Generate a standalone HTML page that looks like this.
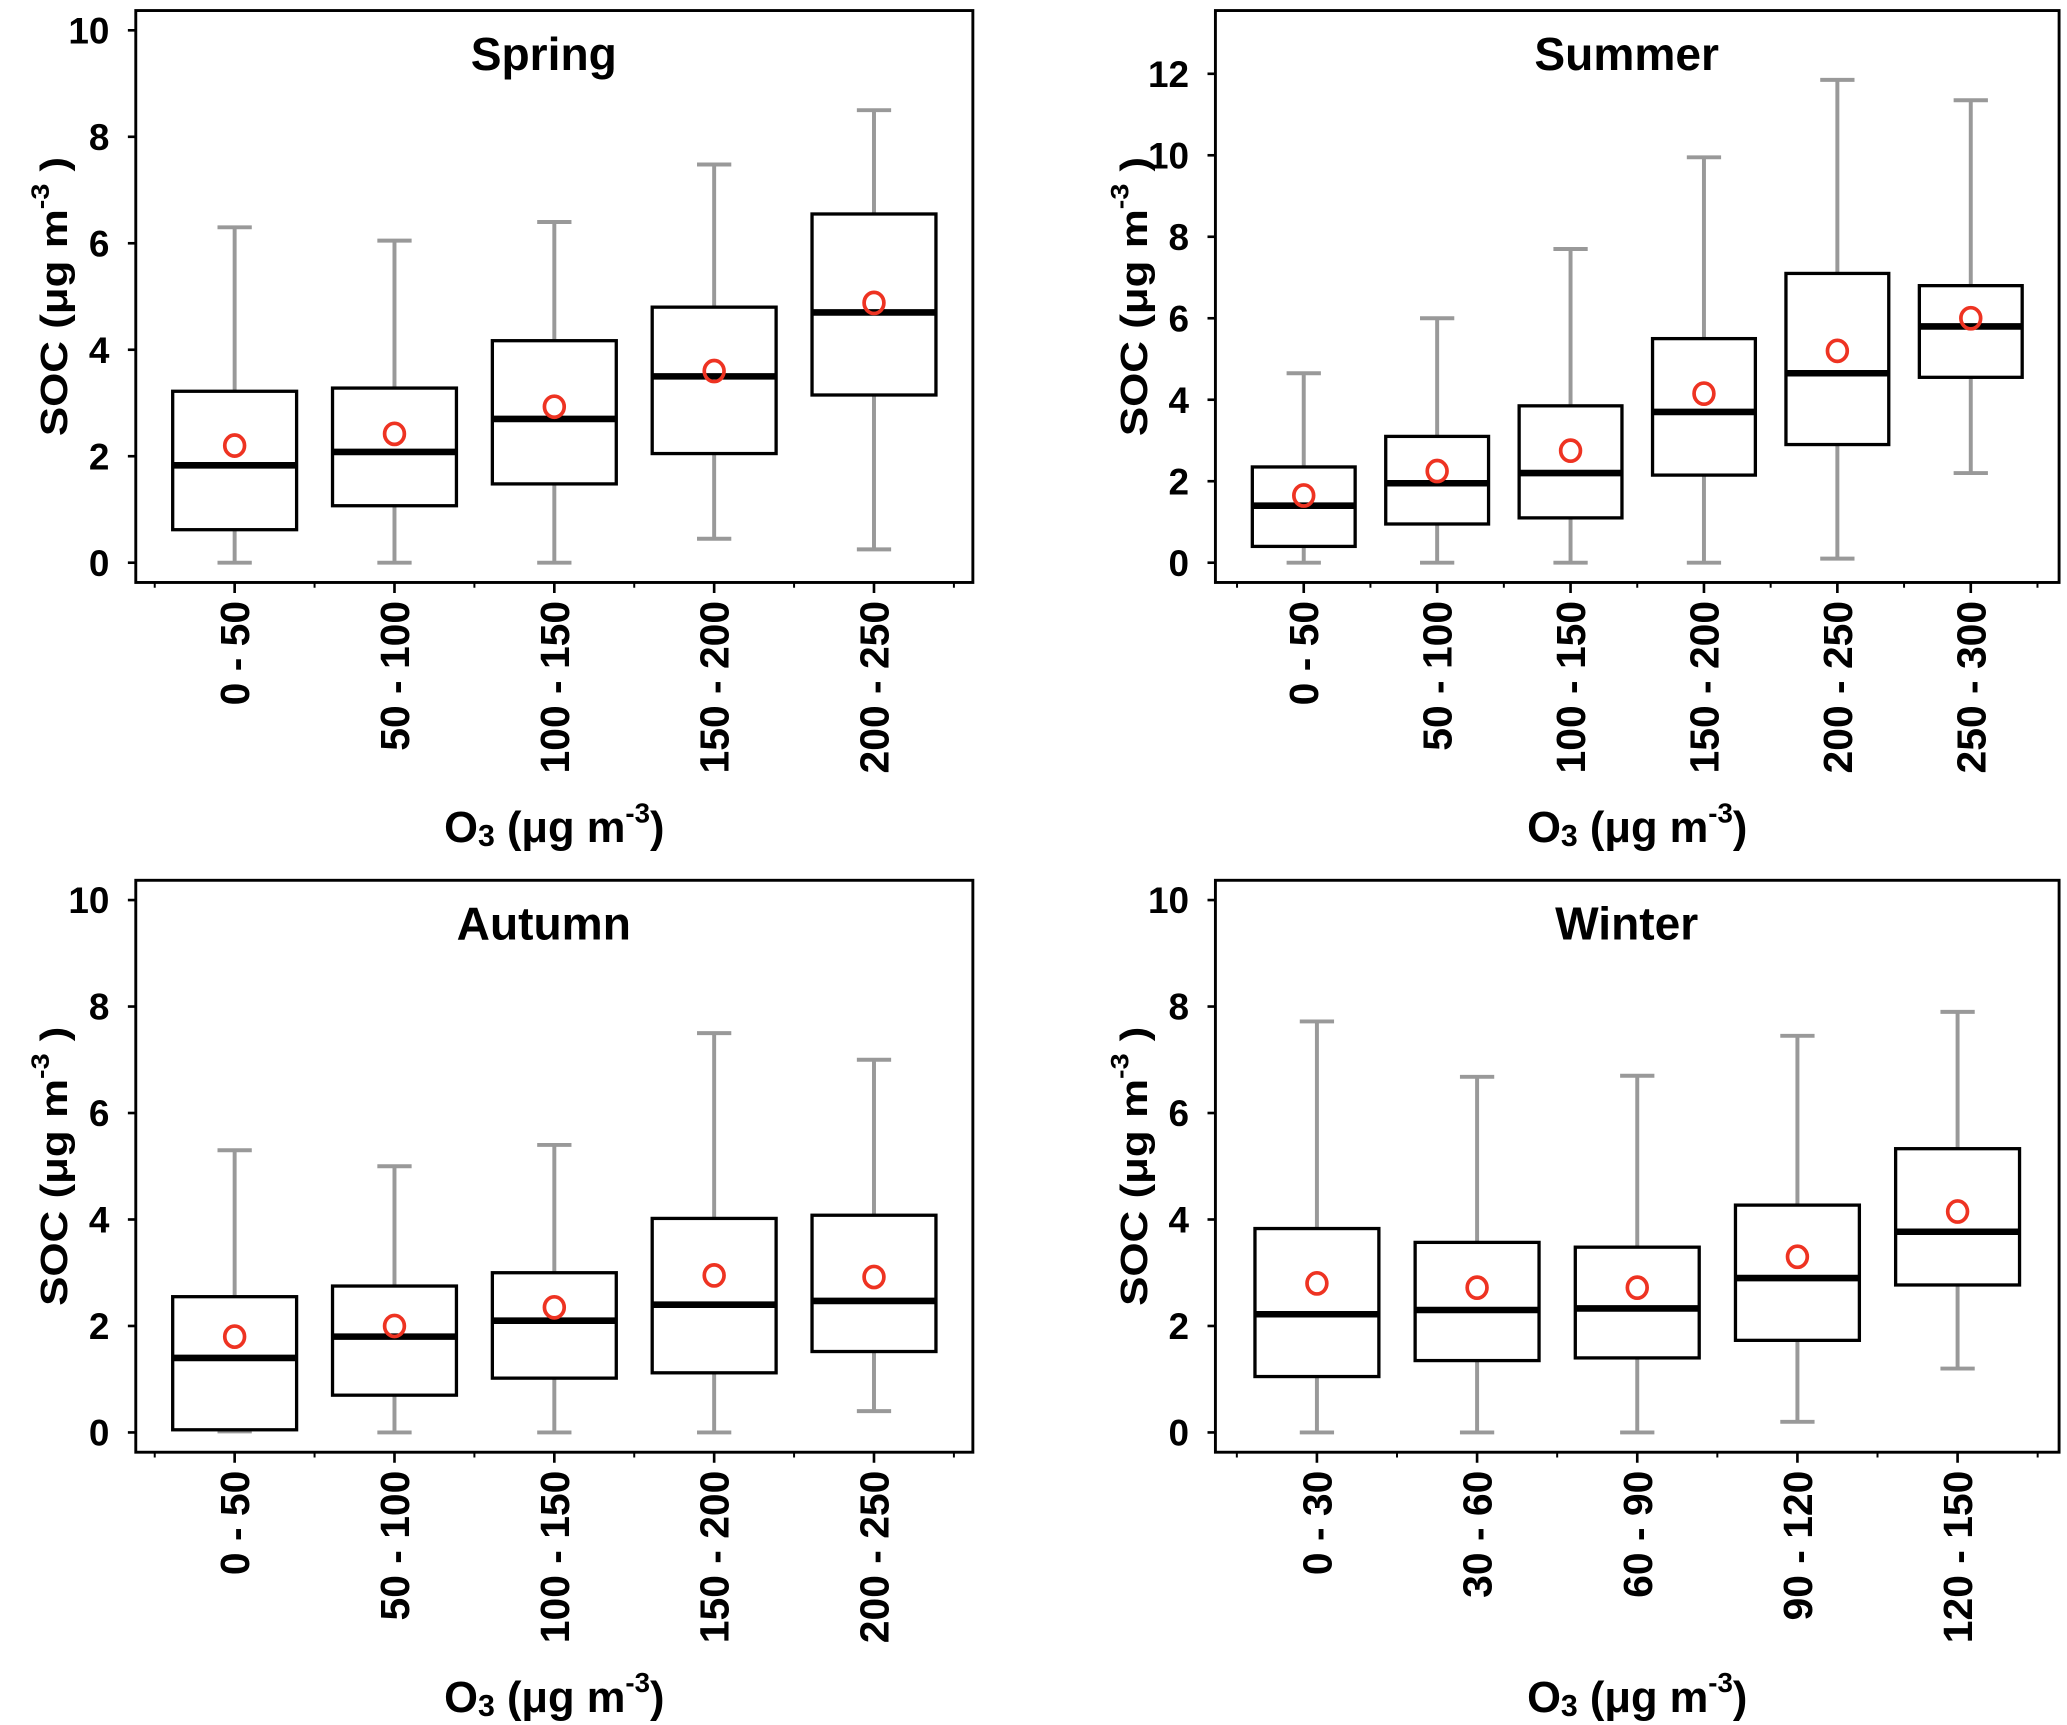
<!DOCTYPE html>
<html><head><meta charset="utf-8">
<style>
html,body{margin:0;padding:0;background:#fff;}
svg{display:block;}
text{font-family:"Liberation Sans",Arial,sans-serif;font-weight:bold;fill:#000;}
</style></head>
<body>
<svg id="fig" width="2067" height="1725" viewBox="0 0 1568 1309" preserveAspectRatio="none" xmlns="http://www.w3.org/2000/svg"></svg>
<script>
// ---- data ----
const springCats = ["0 - 50","50 - 100","100 - 150","150 - 200","200 - 250"];
const springMin = [0,0,0,0.45,0.25];
const springQ1 = [0.62,1.07,1.48,2.05,3.15];
const springMed = [1.83,2.08,2.7,3.5,4.7];
const springQ3 = [3.22,3.28,4.17,4.8,6.55];
const springMax = [6.3,6.05,6.4,7.48,8.5];
const springMean = [2.2,2.42,2.93,3.6,4.88];

const summerCats = ["0 - 50","50 - 100","100 - 150","150 - 200","200 - 250","250 - 300"];
const summerMin = [0,0,0,0,0.1,2.2];
const summerQ1 = [0.4,0.95,1.1,2.15,2.9,4.55];
const summerMed = [1.4,1.95,2.2,3.7,4.65,5.8];
const summerQ3 = [2.35,3.1,3.85,5.5,7.1,6.8];
const summerMax = [4.65,6.0,7.7,9.95,11.85,11.35];
const summerMean = [1.65,2.25,2.75,4.15,5.2,6.0];

const autumnCats = ["0 - 50","50 - 100","100 - 150","150 - 200","200 - 250"];
const autumnMin = [0.02,0,0,0,0.4];
const autumnQ1 = [0.05,0.7,1.02,1.12,1.52];
const autumnMed = [1.4,1.8,2.1,2.4,2.47];
const autumnQ3 = [2.55,2.75,3.0,4.02,4.08];
const autumnMax = [5.3,5.0,5.4,7.5,7.0];
const autumnMean = [1.8,2.0,2.35,2.95,2.92];

const winterCats = ["0 - 30","30 - 60","60 - 90","90 - 120","120 - 150"];
const winterMin = [0,0,0,0.2,1.2];
const winterQ1 = [1.05,1.35,1.4,1.73,2.77];
const winterMed = [2.22,2.3,2.33,2.9,3.77];
const winterQ3 = [3.83,3.57,3.48,4.27,5.33];
const winterMax = [7.72,6.68,6.7,7.45,7.9];
const winterMean = [2.8,2.72,2.72,3.3,4.15];

const ticks10 = [0,2,4,6,8,10];
const ticks12 = [0,2,4,6,8,10,12];

const NS = "http://www.w3.org/2000/svg";
const svg = document.getElementById('fig');
function mk(tag, attrs, parent){
  const e = document.createElementNS(NS, tag);
  for (const k in attrs) e.setAttribute(k, attrs[k]);
  (parent||svg).appendChild(e);
  return e;
}

function panel(o){
  const g = mk('g', {});
  
  
  const L=o.left, R=o.right, T=o.top, B=o.bottom, y0=o.y0, yTop=o.yTop, vTop=o.vTop;
  const ys = v => y0 - (y0 - yTop) * v / vTop;
  const n = o.cats.length;
  const step = (R - L - o.pad*2) / (n - 1);
  const xs = i => L + o.pad + step * i;

  const frame = mk('rect', {x:L, y:T, width:R-L, height:B-T, fill:'none', stroke:'#000', 'stroke-width':2.2}, g);
  
  

  o.ticks.forEach(t => {
    const y = ys(t);
    const tk = mk('line', {x1:L-6, x2:L, y1:y, y2:y, stroke:'#000', 'stroke-width':2}, g);
    
    
    const lb = mk('text', {x:L-20, y:y+10, 'text-anchor':'end', 'font-size':28}, g);
    lb.textContent = t;
    
    
  });

  for (let i=0;i<n;i++){
    const x = xs(i);
    const tk = mk('line', {x1:x, x2:x, y1:B, y2:B+8, stroke:'#000', 'stroke-width':2}, g);
    
    
  }
  for (let i=-1;i<n;i++){
    const x = xs(i) + step/2;
    if (x > L && x < R){
      const tk = mk('line', {x1:x, x2:x, y1:B, y2:B+4, stroke:'#000', 'stroke-width':1.5}, g);
      
      
    }
  }

  for (let i=0;i<n;i++){
    const x = xs(i), hw = o.hw;
    const wk = mk('line', {x1:x, x2:x, y1:ys(o.max[i]), y2:ys(o.min[i]), stroke:'#999', 'stroke-width':3}, g);
    
    
    const capT = mk('line', {x1:x-13, x2:x+13, y1:ys(o.max[i]), y2:ys(o.max[i]), stroke:'#999', 'stroke-width':3}, g);
    
    
    const capB = mk('line', {x1:x-13, x2:x+13, y1:ys(o.min[i]), y2:ys(o.min[i]), stroke:'#999', 'stroke-width':3}, g);
    
    
    const bx = mk('rect', {x:x-hw, y:ys(o.q3[i]), width:hw*2, height:ys(o.q1[i])-ys(o.q3[i]), fill:'#fff', stroke:'#000', 'stroke-width':2.5}, g);
    
    
    const md = mk('line', {x1:x-hw, x2:x+hw, y1:ys(o.med[i]), y2:ys(o.med[i]), stroke:'#000', 'stroke-width':5}, g);
    
    
    const mn = mk('ellipse', {cx:x, cy:ys(o.mean[i]), rx:7.5, ry:8, fill:'none', stroke:'#ee3322', 'stroke-width':2.8}, g);
    
    
    const cl = mk('text', {x:0, y:0, 'text-anchor':'end', 'font-size':31, transform:'translate(' + (x+11) + ',' + (B+14) + ') rotate(-90)'}, g);
    cl.textContent = o.cats[i];
    
    
  }

  const ti = mk('text', {x:(L+R)/2 - 8, y:T+45, 'text-anchor':'middle', 'font-size':35}, g);
  ti.textContent = o.title;
  
  

  const xt = mk('text', {x:(L+R)/2, y:B+197, 'text-anchor':'middle', 'font-size':33}, g);
  xt.innerHTML = 'O<tspan font-size="23" dy="3">3</tspan><tspan dy="-3">  (μg m</tspan><tspan font-size="21" dy="-15">-3</tspan><tspan dy="15">)</tspan>';
  xt.setAttribute('xml:space', 'preserve');
  
  

  const yt = mk('text', {x:0, y:0, 'text-anchor':'middle', 'font-size':29, textLength:212, lengthAdjust:'spacingAndGlyphs', transform:'translate(' + (L-52) + ',' + ((T+B)/2) + ') rotate(-90)'}, g);
  yt.innerHTML = 'SOC  (μg m<tspan font-size="19" dy="-14">-3</tspan><tspan dy="14">  )</tspan>';
  yt.setAttribute('xml:space', 'preserve');
  
  
}

panel({key:'spring', title:'Spring', cats:springCats, min:springMin, q1:springQ1, med:springMed, q3:springQ3, max:springMax, mean:springMean,
  left:103, right:738, top:8, bottom:442, y0:427, yTop:23, vTop:10, ticks:ticks10, pad:75, hw:47});
panel({key:'summer', title:'Summer', cats:summerCats, min:summerMin, q1:summerQ1, med:summerMed, q3:summerQ3, max:summerMax, mean:summerMean,
  left:922, right:1562, top:8, bottom:442, y0:427, yTop:56, vTop:12, ticks:ticks12, pad:67, hw:39});
panel({key:'autumn', title:'Autumn', cats:autumnCats, min:autumnMin, q1:autumnQ1, med:autumnMed, q3:autumnQ3, max:autumnMax, mean:autumnMean,
  left:103, right:738, top:668, bottom:1102, y0:1087, yTop:683, vTop:10, ticks:ticks10, pad:75, hw:47});
panel({key:'winter', title:'Winter', cats:winterCats, min:winterMin, q1:winterQ1, med:winterMed, q3:winterQ3, max:winterMax, mean:winterMean,
  left:922, right:1562, top:668, bottom:1102, y0:1087, yTop:683, vTop:10, ticks:ticks10, pad:77, hw:47});
</script>
</body></html>
